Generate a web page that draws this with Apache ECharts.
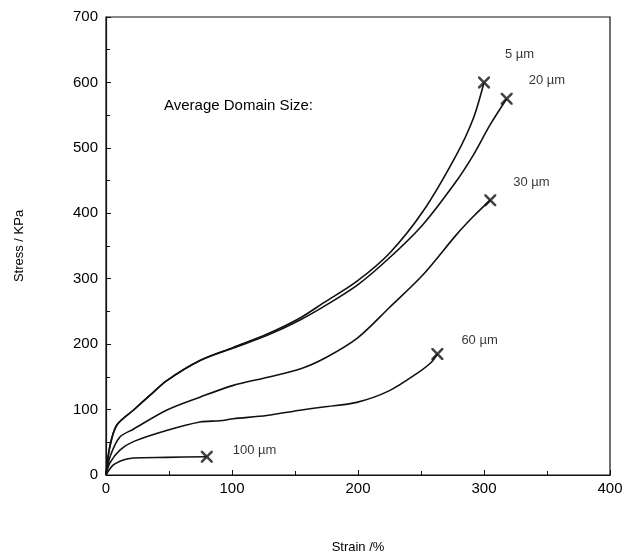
<!DOCTYPE html>
<html><head><meta charset="utf-8">
<script src="https://cdn.jsdelivr.net/npm/echarts@6/dist/echarts.min.js"></script>
<style>html,body{margin:0;padding:0;background:#fff}#c{width:628px;height:559px}</style>
</head><body><div id="c"></div>
<script>
const xTicks = [0, 100, 200, 300, 400];
const yTicks = [0, 100, 200, 300, 400, 500, 600, 700];
const seriesNames = ['5 \u00b5m', '20 \u00b5m', '30 \u00b5m', '60 \u00b5m', '100 \u00b5m'];
const s5 = [[0,0],[3,43],[8.5,76],[21.7,99],[35,122],[48,144],[74.6,175],[101,195],[127.5,215],[154,240],[172.5,263],[199,296],[225,339],[251.6,403],[278,489],[291.5,545],[300,600]];
const s20 = [[0,0],[3,43],[8.5,76],[21.7,99],[35,122],[48,144],[74.6,175],[101,194],[127.5,213],[154,237],[175,260],[200,291],[225,332],[251.6,383],[278,449],[291.5,489],[304.8,535],[318,575]];
const s30 = [[0,0],[3.2,28],[11,58],[21.7,70],[48,99],[74.6,119],[101,137],[127.5,149],[154,162],[175,180],[200,210],[225,256],[251.6,306],[278,367],[291.5,395],[305,420]];
const s60 = [[0,0],[3,18],[11,38],[21.7,51],[48,68],[74.6,81],[90.5,83],[101,86],[127.5,91],[154,99],[172.5,104],[199,111],[225,129],[246.6,155],[258,172],[263,185]];
const s100 = [[0,0],[5.6,15],[13.7,23],[21.7,26],[48,27],[80,28]];
const allSeries = [s5, s20, s30, s60, s100];
const labelOffsets = [[21,-28],[22,-18],[23,-18],[24,-14],[26,-6]];

const FONT = '"Liberation Sans", Arial, sans-serif';
const series = allSeries.map((d, i) => ({
  type: 'line', data: d, smooth: 0.3, showSymbol: false, silent: true,
  lineStyle: {color: '#111', width: 1.6}
}));
series.push({
  type: 'scatter', silent: true,
  data: allSeries.map((d, i) => ({
    value: d[d.length - 1],
    name: seriesNames[i],
    label: {show: true, formatter: seriesNames[i], position: 'inside', align: 'left', verticalAlign: 'middle',
      offset: labelOffsets[i], color: '#000', fontSize: 13, fontFamily: FONT}
  })),
  symbol: 'path://M0,0L3,0L10,7L17,0L20,0L20,3L13,10L20,17L20,20L17,20L10,13L3,20L0,20L0,17L7,10L0,3Z',
  symbolSize: 12,
  itemStyle: {color: '#111'}
});

const chart = echarts.init(document.getElementById('c'));
chart.setOption({
  animation: false,
  backgroundColor: '#fff',
  grid: {left: 106, right: 18, top: 17, bottom: 81, show: true, borderColor: '#111', borderWidth: 1.2},
  graphic: [{type: 'text', left: 164, top: 98, style: {text: 'Average Domain Size:', fontSize: 15, fontFamily: FONT, fill: '#000'}}],
  xAxis: {
    type: 'value', min: xTicks[0], max: xTicks[xTicks.length - 1], interval: 100,
    name: 'Strain /%', nameLocation: 'middle', nameGap: 66,
    nameTextStyle: {fontSize: 13, fontFamily: FONT, color: '#000'},
    axisLine: {show: true, lineStyle: {color: '#111', width: 1.2}},
    axisTick: {show: true, inside: true, length: 5, lineStyle: {color: '#111'}},
    minorTick: {show: true, splitNumber: 2, length: 4, lineStyle: {color: '#111'}},
    splitLine: {show: false},
    axisLabel: {fontSize: 15, fontFamily: FONT, color: '#000', margin: 6}
  },
  yAxis: {
    type: 'value', min: yTicks[0], max: yTicks[yTicks.length - 1], interval: 100,
    name: 'Stress / KPa', nameLocation: 'middle', nameGap: 80,
    nameTextStyle: {fontSize: 13, fontFamily: FONT, color: '#000'},
    axisLine: {show: true, lineStyle: {color: '#111', width: 1.2}},
    axisTick: {show: true, inside: true, length: 5, lineStyle: {color: '#111'}},
    minorTick: {show: true, splitNumber: 2, length: 4, lineStyle: {color: '#111'}},
    splitLine: {show: false},
    axisLabel: {fontSize: 15, fontFamily: FONT, color: '#000', margin: 8}
  },
  series: series
});
</script></body></html>
